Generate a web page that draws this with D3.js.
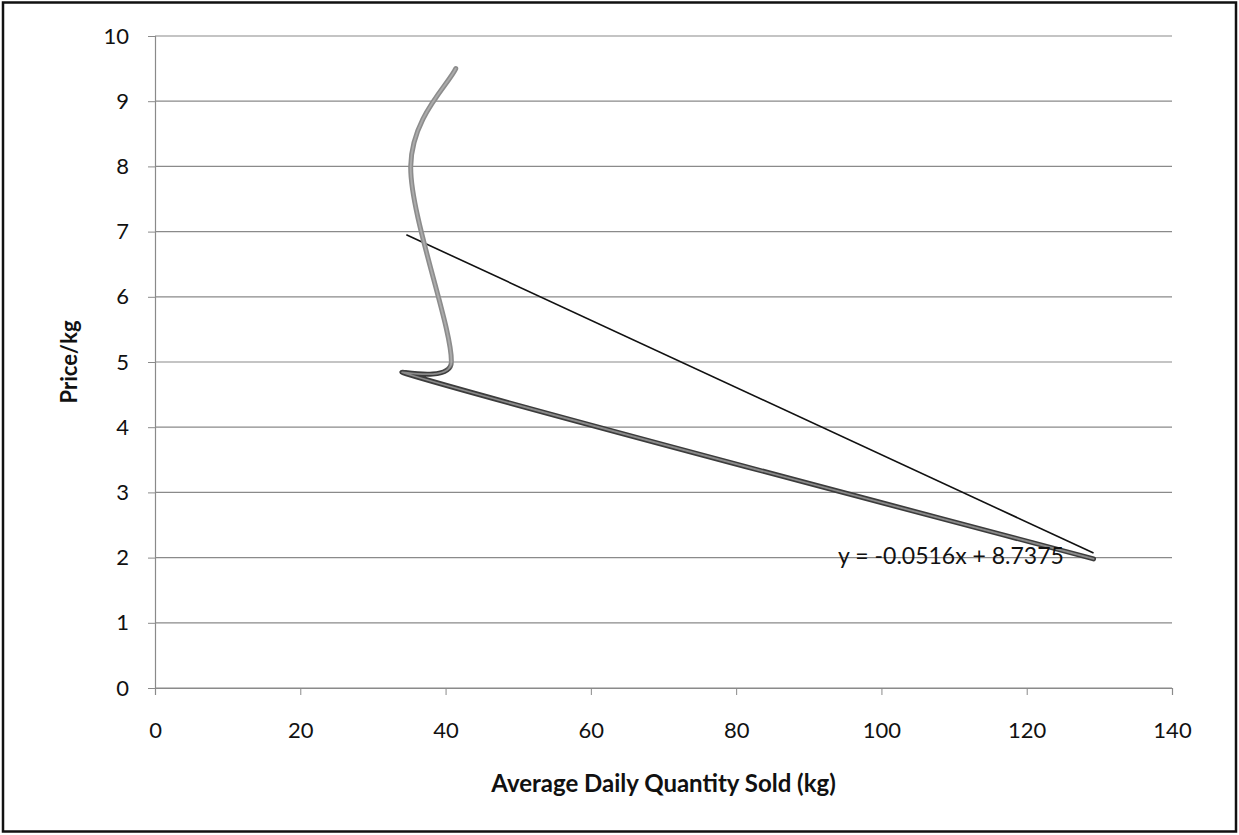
<!DOCTYPE html>
<html>
<head>
<meta charset="utf-8">
<script src="https://cdn.jsdelivr.net/npm/d3@7"></script>
<style>
  html, body { margin: 0; padding: 0; background: #fff; }
  svg { display: block; }
  text { font-family: Lato, "Open Sans", "Liberation Sans", sans-serif; fill: #111; }
</style>
</head>
<body>
<svg id="chart" width="1239" height="835"></svg>
<script>
// Average daily quantity sold (kg) at each price per kg
const quantity = [41.4, 35.2, 40.8, 34.6, 129.2];
const price = [9.5, 8.0, 5.0, 4.82, 1.98];
const xTicks = [0, 20, 40, 60, 80, 100, 120, 140];
const yTicks = [0, 1, 2, 3, 4, 5, 6, 7, 8, 9, 10];
// Linear trendline coefficients
const slope = -0.0516;
const intercept = 8.7375;

const svg = d3.select("#chart");
const W = 1239, H = 835;
const margin = { left: 155, right: 67, top: 36, bottom: 147 };

const x = d3.scaleLinear().domain([0, 140]).range([margin.left, W - margin.right]);
const y = d3.scaleLinear().domain([0, 10]).range([H - margin.bottom, margin.top]);

// outer frame
svg.append("rect")
  .attr("x", 3).attr("y", 2.5).attr("width", W - 6).attr("height", H - 6)
  .attr("fill", "#fff").attr("stroke", "#111").attr("stroke-width", 2.5);

// horizontal gridlines
svg.append("g")
  .selectAll("line")
  .data(yTicks)
  .join("line")
  .attr("x1", x(0)).attr("x2", x(140))
  .attr("y1", d => y(d)).attr("y2", d => y(d))
  .attr("stroke", "#8a8a8a").attr("stroke-width", 1.2);

// y axis
const yAxis = svg.append("g")
  .attr("transform", `translate(${x(0)},0)`)
  .call(d3.axisLeft(y).tickValues(yTicks).tickSize(7).tickPadding(19).tickFormat(d3.format("d")));
yAxis.select(".domain").attr("stroke", "#8a8a8a").attr("stroke-width", 1.2);
yAxis.selectAll(".tick line").attr("stroke", "#8a8a8a");
yAxis.selectAll(".tick text").attr("font-size", 22).attr("fill", "#111")
  .attr("font-family", "Lato, 'Open Sans', sans-serif");

// x axis
const xAxis = svg.append("g")
  .attr("transform", `translate(0,${y(0)})`)
  .call(d3.axisBottom(x).tickValues(xTicks).tickSize(7).tickPadding(27).tickFormat(d3.format("d")));
xAxis.select(".domain").attr("stroke", "#8a8a8a").attr("stroke-width", 1.2);
xAxis.selectAll(".tick line").attr("stroke", "#8a8a8a");
xAxis.selectAll(".tick text").attr("font-size", 22).attr("fill", "#111")
  .attr("font-family", "Lato, 'Open Sans', sans-serif");

// axis titles
svg.append("text")
  .attr("x", (x(0) + x(140)) / 2).attr("y", 792)
  .attr("text-anchor", "middle").attr("font-size", 24).attr("font-weight", "bold")
  .text("Average Daily Quantity Sold (kg)");
svg.append("text")
  .attr("transform", `translate(77,${(y(0) + y(10)) / 2}) rotate(-90)`)
  .attr("text-anchor", "middle").attr("font-size", 22).attr("font-weight", "bold")
  .text("Price/kg");

// trendline over the range of the data
const xMin = d3.min(quantity), xMax = d3.max(quantity);
svg.append("line")
  .attr("x1", x(xMin)).attr("y1", y(slope * xMin + intercept))
  .attr("x2", x(xMax)).attr("y2", y(slope * xMax + intercept))
  .attr("stroke", "#111").attr("stroke-width", 1.6);

// smoothed data line: Bezier segments whose handles follow the neighbouring
// points, capped at half the segment length so short segments stay tight
function smoothPath(p) {
  const path = d3.path();
  const dist = (a, b) => Math.hypot(b[0] - a[0], b[1] - a[1]);
  path.moveTo(p[0][0], p[0][1]);
  for (let i = 0; i < p.length - 1; i++) {
    const p0 = p[Math.max(i - 1, 0)], p1 = p[i], p2 = p[i + 1], p3 = p[Math.min(i + 2, p.length - 1)];
    const d12 = dist(p1, p2);
    const d02 = dist(p0, p2), d13 = dist(p1, p3);
    let f = 1 / 6, g = 1 / 6;
    if (d02 / 6 > d12 / 2) f = (d12 / 2) / d02;
    if (d13 / 6 > d12 / 2) g = (d12 / 2) / d13;
    const c1 = [p1[0] + f * (p2[0] - p0[0]), p1[1] + f * (p2[1] - p0[1])];
    const c2 = [p2[0] - g * (p3[0] - p1[0]), p2[1] - g * (p3[1] - p1[1])];
    path.bezierCurveTo(c1[0], c1[1], c2[0], c2[1], p2[0], p2[1]);
  }
  return path.toString();
}
const pts = quantity.map((q, i) => [x(q), y(price[i])]);
const d = smoothPath(pts);

// lighter above price 5, darker below
const defs = svg.append("defs");
function shade(id, top, bottom) {
  const g = defs.append("linearGradient")
    .attr("id", id).attr("gradientUnits", "userSpaceOnUse")
    .attr("x1", 0).attr("x2", 0).attr("y1", y(5.0)).attr("y2", y(4.86));
  g.append("stop").attr("offset", 0).attr("stop-color", top);
  g.append("stop").attr("offset", 1).attr("stop-color", bottom);
}
shade("lineEdge", "#8c8c8c", "#3c3c3c");
shade("lineCore", "#ababab", "#8a8a8a");

svg.append("path").attr("d", d).attr("fill", "none")
  .attr("stroke", "url(#lineEdge)").attr("stroke-width", 5)
  .attr("stroke-linejoin", "round").attr("stroke-linecap", "round");
svg.append("path").attr("d", d).attr("fill", "none")
  .attr("stroke", "url(#lineCore)").attr("stroke-width", 1.8)
  .attr("stroke-linejoin", "round").attr("stroke-linecap", "round");

// trendline equation label
svg.append("text")
  .attr("x", 951).attr("y", 564)
  .attr("text-anchor", "middle").attr("font-size", 23)
  .text(`y = ${slope}x + ${intercept}`);
</script>
</body>
</html>
